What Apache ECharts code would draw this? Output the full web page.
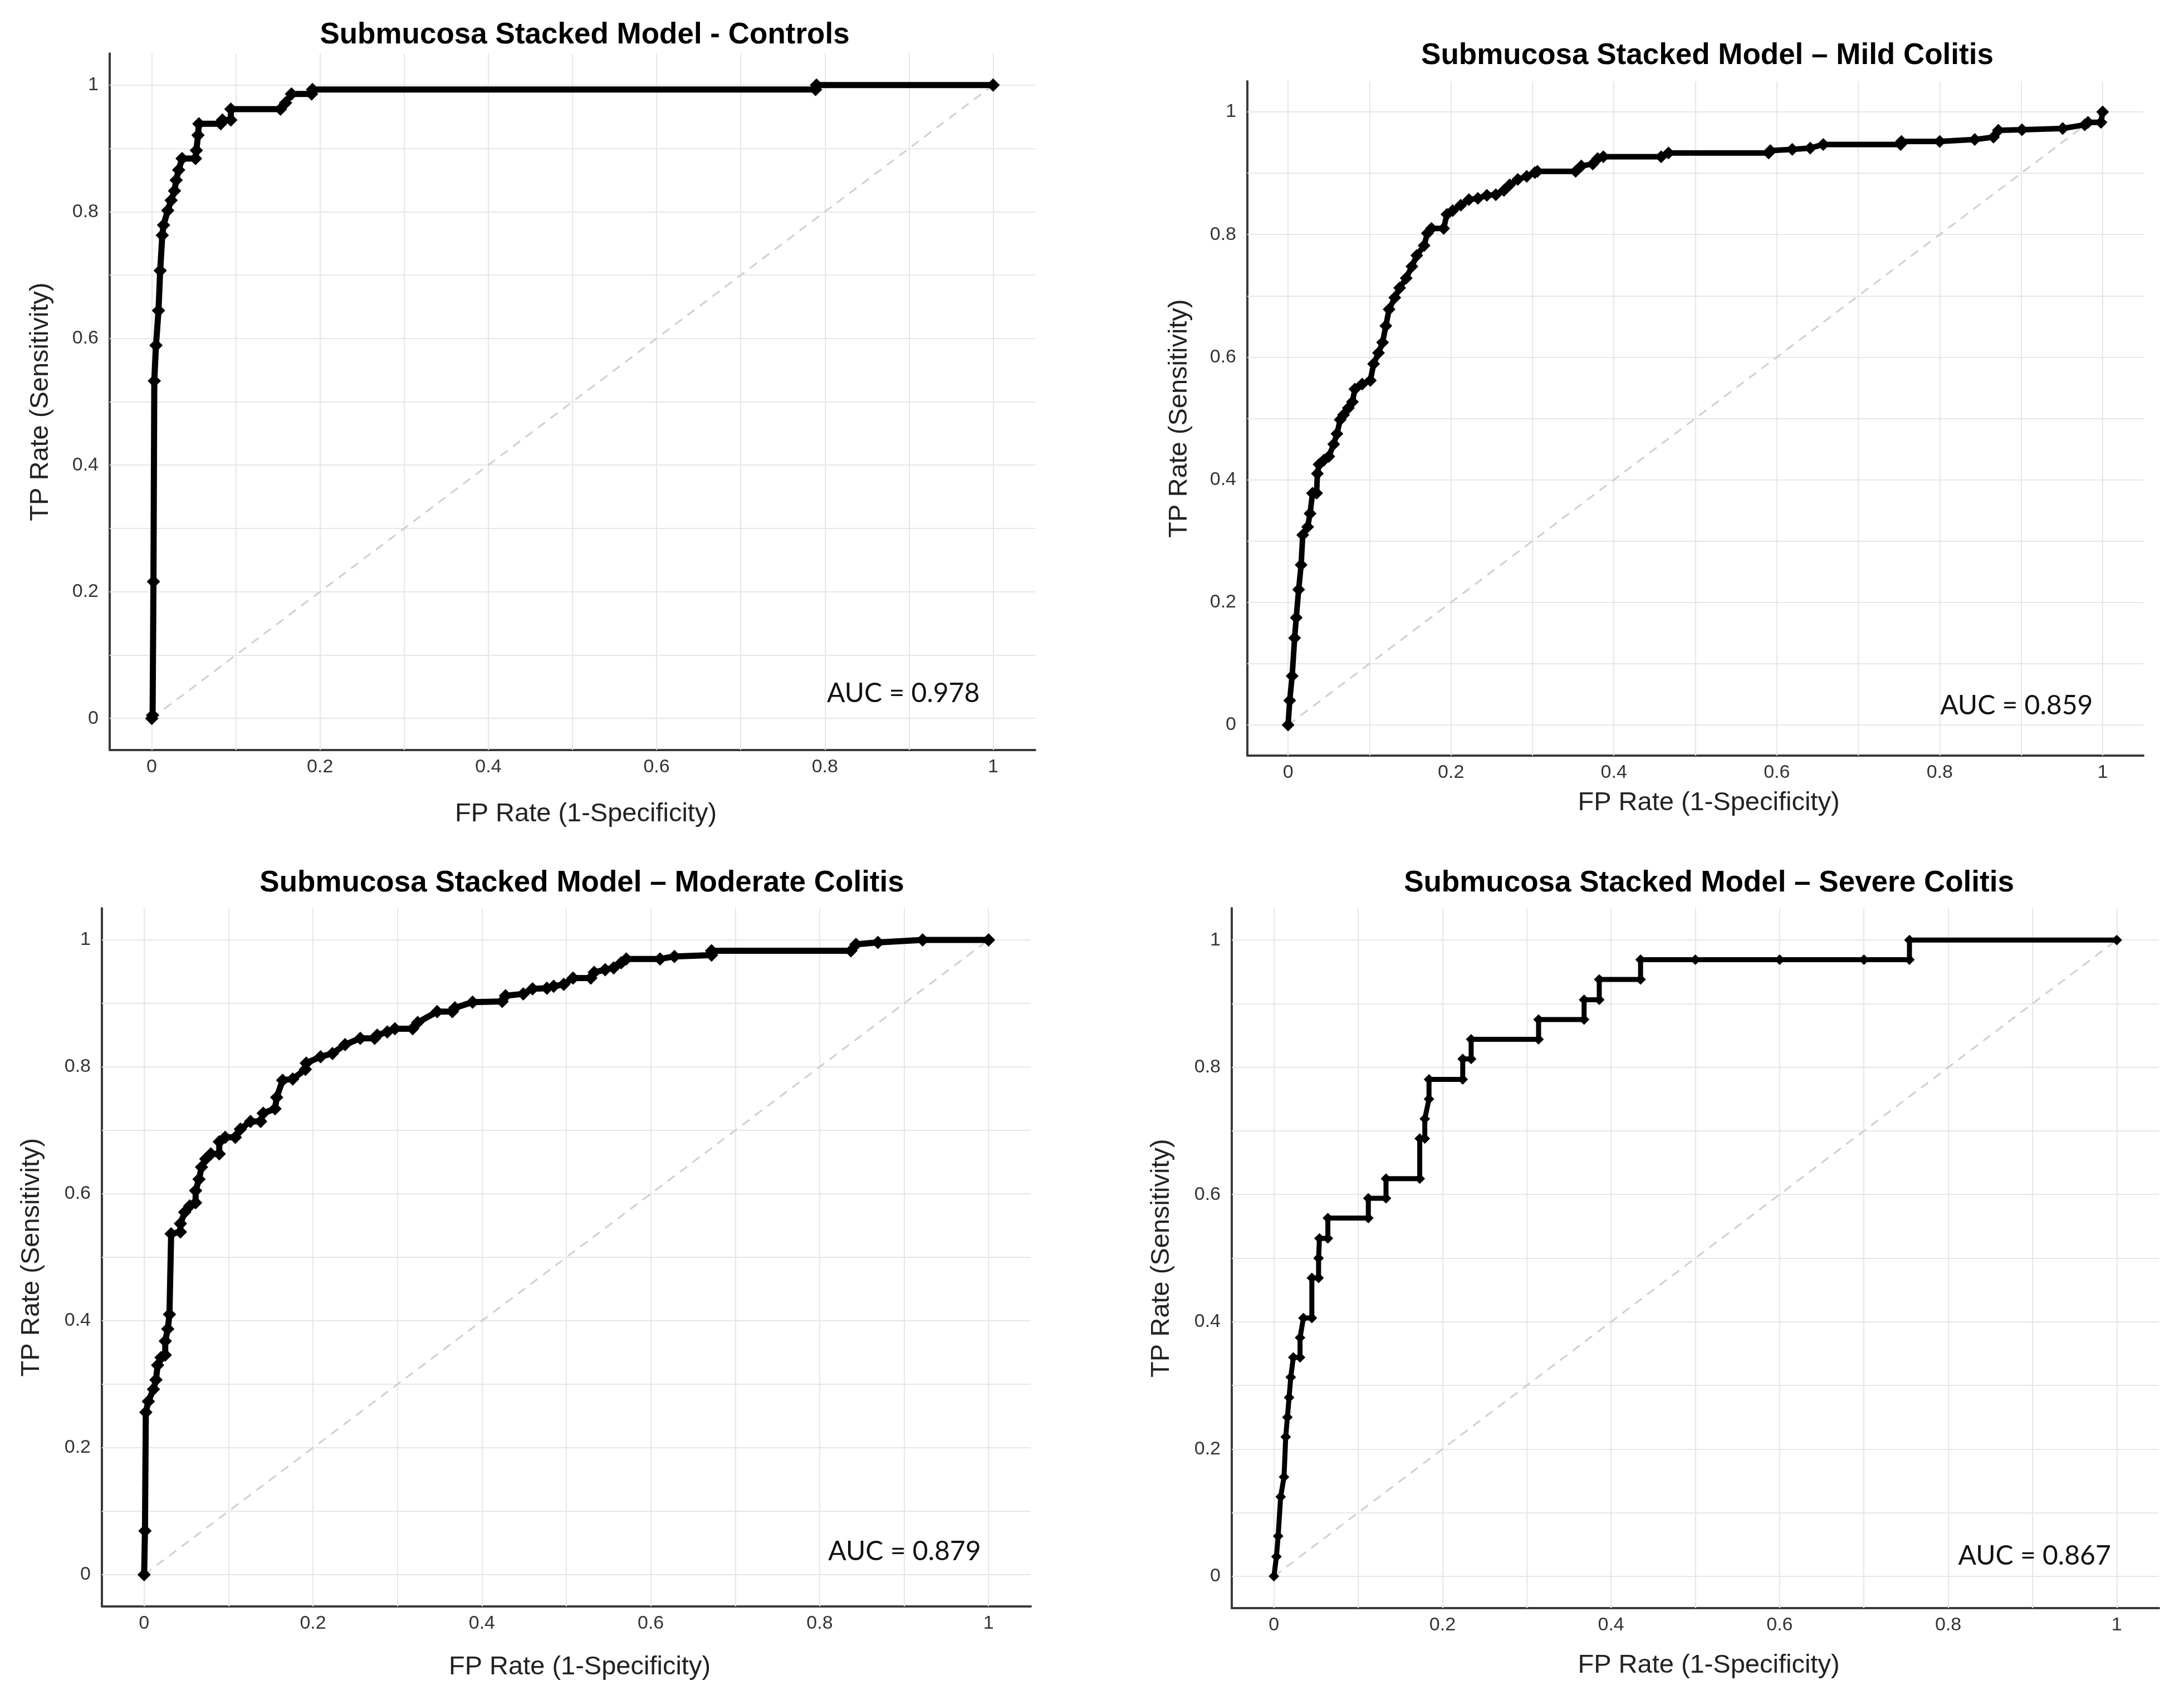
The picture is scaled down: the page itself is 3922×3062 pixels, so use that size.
<!DOCTYPE html>
<html><head><meta charset="utf-8">
<script src="https://cdn.jsdelivr.net/npm/echarts@6/dist/echarts.min.js"></script>
<style>html,body{margin:0;padding:0;background:#fff}#c{width:3922px;height:3062px}</style>
</head><body><div id="c"></div>
<script>
// ---- data ----
const tickValues = [0, 0.2, 0.4, 0.6, 0.8, 1];
const gridValues = [0, 0.1, 0.2, 0.3, 0.4, 0.5, 0.6, 0.7, 0.8, 0.9, 1];
const panelTitles = [
  'Submucosa Stacked Model - Controls',
  'Submucosa Stacked Model \u2013 Mild Colitis',
  'Submucosa Stacked Model \u2013 Moderate Colitis',
  'Submucosa Stacked Model \u2013 Severe Colitis'
];
const aucValues = ['0.978', '0.859', '0.879', '0.867'];
const xAxisTitle = 'FP Rate (1-Specificity)';
const yAxisTitle = 'TP Rate (Sensitivity)';

const ctrlFPR = [0, 0.001, 0.002, 0.003, 0.005, 0.008, 0.010, 0.0125, 0.014, 0.019, 0.023, 0.027, 0.029, 0.032, 0.036, 0.052, 0.053, 0.055, 0.056, 0.082, 0.084, 0.094, 0.094, 0.153, 0.159, 0.166, 0.19, 0.191, 0.789, 0.79, 1];
const ctrlTPR = [0, 0.005, 0.216, 0.533, 0.589, 0.644, 0.707, 0.763, 0.779, 0.802, 0.818, 0.833, 0.850, 0.866, 0.884, 0.884, 0.897, 0.921, 0.939, 0.939, 0.945, 0.945, 0.962, 0.962, 0.972, 0.986, 0.986, 0.993, 0.993, 1, 1];

const mildFPR = [0, 0.002, 0.005, 0.008, 0.010, 0.013, 0.016, 0.018, 0.024, 0.027, 0.030, 0.035, 0.036, 0.038, 0.044, 0.050, 0.056, 0.060, 0.064, 0.068, 0.074, 0.079, 0.082, 0.091, 0.101, 0.105, 0.111, 0.116, 0.120, 0.124, 0.131, 0.137, 0.145, 0.152, 0.158, 0.167, 0.171, 0.176, 0.191, 0.195, 0.202, 0.212, 0.222, 0.233, 0.244, 0.255, 0.265, 0.272, 0.282, 0.293, 0.303, 0.306, 0.353, 0.360, 0.374, 0.380, 0.387, 0.458, 0.467, 0.590, 0.592, 0.619, 0.641, 0.657, 0.752, 0.753, 0.800, 0.843, 0.866, 0.872, 0.901, 0.951, 0.978, 0.982, 0.998, 1];
const mildTPR = [0, 0.040, 0.080, 0.142, 0.175, 0.221, 0.261, 0.310, 0.323, 0.345, 0.378, 0.378, 0.410, 0.425, 0.432, 0.438, 0.458, 0.475, 0.498, 0.506, 0.517, 0.527, 0.548, 0.556, 0.562, 0.589, 0.607, 0.624, 0.651, 0.678, 0.697, 0.713, 0.729, 0.748, 0.766, 0.782, 0.802, 0.810, 0.810, 0.833, 0.839, 0.848, 0.857, 0.859, 0.864, 0.865, 0.872, 0.881, 0.890, 0.895, 0.901, 0.903, 0.903, 0.912, 0.915, 0.924, 0.927, 0.927, 0.933, 0.933, 0.937, 0.939, 0.941, 0.947, 0.947, 0.952, 0.952, 0.955, 0.959, 0.970, 0.971, 0.973, 0.979, 0.983, 0.983, 1];

const modFPR = [0, 0.001, 0.002, 0.005, 0.011, 0.014, 0.016, 0.020, 0.025, 0.025, 0.028, 0.030, 0.032, 0.043, 0.043, 0.048, 0.054, 0.061, 0.061, 0.065, 0.068, 0.073, 0.079, 0.089, 0.089, 0.096, 0.108, 0.114, 0.126, 0.138, 0.141, 0.155, 0.157, 0.164, 0.176, 0.191, 0.192, 0.209, 0.223, 0.238, 0.256, 0.273, 0.276, 0.288, 0.297, 0.318, 0.324, 0.347, 0.365, 0.368, 0.389, 0.424, 0.428, 0.449, 0.460, 0.477, 0.485, 0.497, 0.508, 0.529, 0.533, 0.546, 0.556, 0.565, 0.571, 0.611, 0.628, 0.672, 0.672, 0.837, 0.843, 0.869, 0.922, 1];
const modTPR = [0, 0.069, 0.256, 0.273, 0.292, 0.307, 0.330, 0.342, 0.346, 0.368, 0.387, 0.410, 0.537, 0.540, 0.553, 0.571, 0.581, 0.586, 0.605, 0.623, 0.642, 0.655, 0.663, 0.663, 0.682, 0.689, 0.689, 0.702, 0.714, 0.714, 0.727, 0.734, 0.752, 0.779, 0.781, 0.796, 0.806, 0.816, 0.821, 0.835, 0.845, 0.845, 0.850, 0.855, 0.860, 0.860, 0.870, 0.887, 0.887, 0.893, 0.902, 0.903, 0.912, 0.915, 0.923, 0.924, 0.927, 0.930, 0.940, 0.940, 0.949, 0.953, 0.956, 0.964, 0.970, 0.970, 0.974, 0.976, 0.983, 0.983, 0.993, 0.996, 1, 1];

const sevFPR = [0, 0.003, 0.005, 0.008, 0.012, 0.014, 0.016, 0.018, 0.020, 0.023, 0.031, 0.031, 0.035, 0.045, 0.045, 0.053, 0.053, 0.054, 0.064, 0.064, 0.112, 0.112, 0.133, 0.133, 0.173, 0.173, 0.179, 0.179, 0.184, 0.184, 0.224, 0.224, 0.234, 0.234, 0.314, 0.314, 0.368, 0.368, 0.386, 0.386, 0.435, 0.435, 0.5, 0.6, 0.7, 0.754, 0.754, 1];
const sevTPR = [0, 0.031, 0.063, 0.125, 0.156, 0.219, 0.25, 0.281, 0.313, 0.344, 0.344, 0.375, 0.406, 0.406, 0.469, 0.469, 0.5, 0.531, 0.531, 0.563, 0.563, 0.594, 0.594, 0.625, 0.625, 0.688, 0.688, 0.719, 0.75, 0.781, 0.781, 0.813, 0.813, 0.844, 0.844, 0.875, 0.875, 0.906, 0.906, 0.938, 0.938, 0.969, 0.969, 0.969, 0.969, 0.969, 1, 1];

const diagonal = [[0, 0], [1, 1]];

// ---- layout / style ----
const layout = [
  {grid: {left: 197, top: 96, width: 1662, height: 1251}, title: [1050, 63], xGap: 92, yGap: 100, auc: [0.984, 0.039], lw: 11, ss: 24},
  {grid: {left: 2240, top: 146, width: 1609, height: 1211}, title: [3066, 100], xGap: 62, yGap: 98, auc: [0.988, 0.031], lw: 10, ss: 23},
  {grid: {left: 183, top: 1631, width: 1668, height: 1254}, title: [1045, 1586], xGap: 86, yGap: 102, auc: [0.991, 0.036], lw: 11, ss: 24},
  {grid: {left: 2212, top: 1631, width: 1665, height: 1257}, title: [3069, 1586], xGap: 80, yGap: 102, auc: [0.993, 0.032], lw: 9, ss: 19}
];
const curves = [[ctrlFPR, ctrlTPR], [mildFPR, mildTPR], [modFPR, modTPR], [sevFPR, sevTPR]];

const grids = [], xAxes = [], yAxes = [], series = [], graphics = [];
const axisLineStyle = {color: '#3a3a3a', width: 4};
const tickLabel = {fontSize: 34, color: '#333', fontFamily: 'Liberation Sans'};
const nameStyle = {fontSize: 47, color: '#222', fontFamily: 'Liberation Sans'};

layout.forEach((L, i) => {
  grids.push(Object.assign({containLabel: false}, L.grid));
  xAxes.push({
    type: 'value', gridIndex: i, min: -0.05, max: 1.05,
    axisLine: {show: true, onZero: false, lineStyle: axisLineStyle},
    axisTick: {show: false}, splitLine: {show: false},
    axisLabel: Object.assign({customValues: tickValues, margin: 14}, tickLabel),
    name: xAxisTitle, nameLocation: 'middle', nameGap: L.xGap,
    nameTextStyle: Object.assign({padding: [0, 0, 0, 48]}, nameStyle)
  });
  yAxes.push({
    type: 'value', gridIndex: i, min: -0.05, max: 1.05,
    axisLine: {show: true, onZero: false, lineStyle: axisLineStyle},
    axisTick: {show: false}, splitLine: {show: false},
    axisLabel: Object.assign({customValues: tickValues, margin: 20}, tickLabel),
    name: yAxisTitle, nameLocation: 'middle', nameGap: L.yGap, nameRotate: 90, nameTextStyle: nameStyle
  });
  const gridLines = gridValues.map(v => ({xAxis: v})).concat(gridValues.map(v => ({yAxis: v})));
  series.push({
    type: 'line', xAxisIndex: i, yAxisIndex: i, data: [[0, 0]], symbol: 'none', silent: true, z: 1,
    lineStyle: {opacity: 0},
    markLine: {silent: true, z: 1, symbol: ['none', 'none'], label: {show: false}, animation: false,
      lineStyle: {color: '#e6e6e6', width: 2, type: 'solid'}, data: gridLines}
  });
  series.push({
    type: 'line', xAxisIndex: i, yAxisIndex: i, data: diagonal, symbol: 'none', silent: true, z: 2,
    lineStyle: {color: '#cfcfcf', width: 3, type: [16, 12]}
  });
  const [fpr, tpr] = curves[i];
  series.push({
    type: 'line', xAxisIndex: i, yAxisIndex: i, z: 3,
    data: fpr.map((x, k) => [x, tpr[k]]),
    symbol: 'diamond', symbolSize: L.ss, showAllSymbol: true,
    itemStyle: {color: '#000', borderWidth: 0}, lineStyle: {color: '#000', width: L.lw},
    markPoint: {
      symbol: 'circle', symbolSize: 0, silent: true, z: 4,
      data: [{coord: L.auc, value: aucValues[i]}],
      label: {show: true, position: 'left', distance: 0, formatter: 'AUC = ' + aucValues[i],
        fontSize: 48, fontFamily: 'Lato', color: '#111'}
    }
  });
  graphics.push({
    type: 'text', x: L.title[0], y: L.title[1], silent: true,
    style: {text: panelTitles[i], fontSize: 53, fontWeight: 'bold', fontFamily: 'Liberation Sans',
      fill: '#000', align: 'center', verticalAlign: 'middle'}
  });
});

const chart = echarts.init(document.getElementById('c'), null, {renderer: 'canvas'});
chart.setOption({
  animation: false,
  backgroundColor: '#fff',
  grid: grids, xAxis: xAxes, yAxis: yAxes, series: series, graphic: graphics
});
</script></body></html>
